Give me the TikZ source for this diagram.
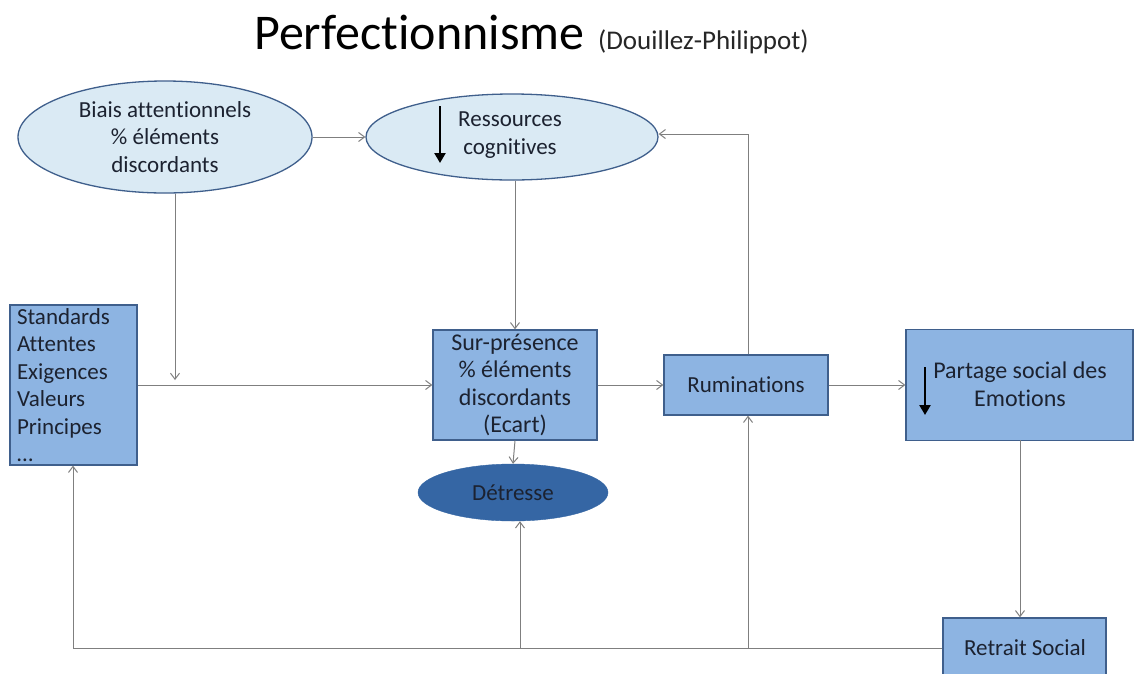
\documentclass[tikz,border=0pt]{standalone}
\usepackage{fontspec}
\setmainfont{Carlito}[Ligatures=NoCommon,Contextuals=NoAlternate]
\usetikzlibrary{shapes.geometric,arrows.meta}
\definecolor{lightfill}{HTML}{DAEAF4}
\definecolor{boxfill}{HTML}{8DB4E2}
\definecolor{darkfill}{HTML}{3566A4}
\definecolor{edgeblue}{HTML}{3F5F8C}
\definecolor{linegray}{HTML}{7F7F7F}
\definecolor{txt}{HTML}{1C2230}
\tikzset{
  lightell/.style={ellipse,draw=edgeblue,line width=1.3pt,fill=lightfill,inner sep=0pt,text=txt,align=center,font=\fontsize{23}{27.5}\selectfont},
  bluebox/.style={rectangle,draw=edgeblue,line width=1.3pt,fill=boxfill,inner sep=0pt,text=txt,align=center,font=\fontsize{23}{27.5}\selectfont},
  conn/.style={draw=linegray,line width=1pt,-{Straight Barb[length=6pt,width=9pt]}},
  bigarrow/.style={draw=black,line width=2.4pt,-{Triangle[length=10pt,width=11pt]}}
}
\begin{document}
\begin{tikzpicture}[x=1pt,y=-1pt]
\clip (0,0) rectangle (1134,673);
\fill[white] (0,0) rectangle (1134,673);

% title
\node[anchor=base west,inner sep=0pt,font=\fontsize{50}{55}\selectfont,text=black] (title) at (254,49) {Perfectionnisme};
\node[anchor=base west,inner sep=0pt,font=\fontsize{27}{30}\selectfont,text=black!85] (subtitle) at (598,49) {(Douillez-Philippot)};

% nodes
\node[lightell,minimum width=294pt,minimum height=112pt] (biais) at (165,137) {Biais attentionnels\\\% éléments\\discordants};
\node[lightell,minimum width=292pt,minimum height=86pt] (ress) at (512,137) {};
\node[text=txt,align=center,font=\fontsize{23}{27.5}\selectfont] (resstxt) at (510,135) {Ressources\\cognitives};
\node[bluebox,minimum width=127pt,minimum height=160pt,text width=113pt,align=left] (stand) at (73.5,385) {Standards\\Attentes\\Exigences\\Valeurs\\Principes\\\ldots};
\node[bluebox,minimum width=164pt,minimum height=110pt,font=\fontsize{24}{27.5}\selectfont] (sur) at (515,385) {Sur-présence\\\% éléments\\discordants\\(Ecart)};
\node[ellipse,fill=darkfill,draw=darkfill,inner sep=0pt,minimum width=190pt,minimum height=57pt,text=txt,font=\fontsize{23}{27.5}\selectfont] (detr) at (513,492.5) {Détresse};
\node[bluebox,minimum width=164pt,minimum height=60pt] (rum) at (746,385) {Ruminations};
\node[bluebox,minimum width=227pt,minimum height=111pt] (part) at (1019.5,385) {};
\node[text=txt,align=center,font=\fontsize{24}{28}\selectfont] (parttxt) at (1020,384) {Partage social des\\Emotions};
\node[bluebox,minimum width=163pt,minimum height=90pt] (retr) at (1024.5,663) {};
\node[text=txt,font=\fontsize{23}{27.5}\selectfont] (retrtxt) at (1025,648) {Retrait Social};

% down arrows inside nodes
\coordinate (ra1) at (440,106);
\coordinate (ra2) at (440,163);
\draw[bigarrow] (ra1) -- (ra2);
\coordinate (pa1) at (925,367);
\coordinate (pa2) at (925,415);
\draw[bigarrow] (pa1) -- (pa2);

% connectors
\draw[conn] (biais.east) -- (ress.west);
\coordinate (j1) at (175,380);
\draw[conn] (biais.south -| j1) -- (j1);
\draw[conn] (stand.east |- sur.west) -- (sur.west);
\draw[conn] (ress.south -| sur.north) -- (sur.north);
\draw[conn] (sur.south) -- (detr.north);
\draw[conn] (sur.east) -- (rum.west);
\coordinate (rc) at (748,134);
\draw[conn] (rum.north -| rc) -- (rc) -- (ress.east |- rc);
\draw[conn] (rum.east) -- (part.west);
\coordinate (pr) at (1020,440);
\draw[conn] (pr) -- (pr |- retr.north);

% bottom feedback
\coordinate (bl) at (73,648);
\coordinate (b1) at (520,648);
\coordinate (b2) at (748,648);
\draw[conn] (retr.west |- bl) -- (bl) -- (stand.south -| bl);
\draw[conn] (b1) -- (b1 |- detr.south);
\draw[conn] (b2) -- (b2 |- rum.south);
\end{tikzpicture}
\end{document}
